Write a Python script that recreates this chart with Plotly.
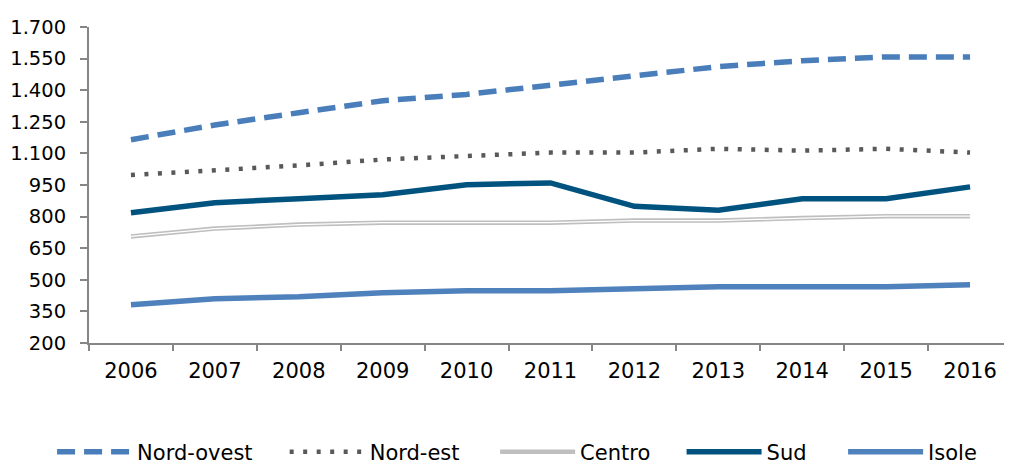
import plotly.graph_objects as go

years = ["2006", "2007", "2008", "2009", "2010", "2011", "2012", "2013", "2014", "2015", "2016"]
nord_ovest = [1165, 1235, 1293, 1350, 1380, 1423, 1465, 1512, 1540, 1558, 1558]
nord_est = [997, 1019, 1043, 1071, 1086, 1104, 1104, 1122, 1113, 1122, 1104]
centro = [706, 743, 762, 771, 771, 771, 781, 781, 793, 802, 802]
sud = [818, 866, 885, 904, 951, 960, 849, 830, 885, 885, 941]
isole = [382, 410, 419, 438, 448, 448, 457, 467, 467, 467, 476]

y_min, y_max, y_step = 200, 1700, 150

font_family = "DejaVu Sans, Arial, sans-serif"

# legend placement (paper x of each legend entry)
legend_x = [-0.040, 0.212, 0.440, 0.642, 0.817]
legend_y = -0.345

fig = go.Figure()
fig.add_trace(go.Scatter(x=years, y=nord_ovest, name="Nord-ovest", mode="lines", legend="legend",
                         line=dict(color="#4a7ebb", width=5.5, dash="18px,9px")))
fig.add_trace(go.Scatter(x=years, y=nord_est, name="Nord-est", mode="lines", legend="legend2",
                         line=dict(color="#595959", width=4.5, dash="4px,9.5px")))
fig.add_trace(go.Scatter(x=years, y=centro, name="Centro", mode="lines", legend="legend3",
                         legendgroup="c", line=dict(color="#bfbfbf", width=4.5)))
fig.add_trace(go.Scatter(x=years, y=centro, name="Centro", mode="lines", legendgroup="c",
                         showlegend=False, hoverinfo="skip",
                         line=dict(color="#ffffff", width=1.2)))
fig.add_trace(go.Scatter(x=years, y=sud, name="Sud", mode="lines", legend="legend4",
                         line=dict(color="#00527f", width=5.5)))
fig.add_trace(go.Scatter(x=years, y=isole, name="Isole", mode="lines", legend="legend5",
                         line=dict(color="#4f81bd", width=5.5)))

legend_common = dict(orientation="h", yanchor="middle", xanchor="left", y=legend_y,
                     font=dict(size=21, color="#000000"), itemwidth=75,
                     bgcolor="rgba(0,0,0,0)")

fig.update_layout(
    width=1004, height=459,
    margin=dict(l=81, r=0, t=19, b=124, autoexpand=False),
    paper_bgcolor="white", plot_bgcolor="white",
    separators=",.",
    font=dict(family=font_family, size=20, color="#000000"),
    showlegend=True,
    legend=dict(x=legend_x[0], **legend_common),
    legend2=dict(x=legend_x[1], **legend_common),
    legend3=dict(x=legend_x[2], **legend_common),
    legend4=dict(x=legend_x[3], **legend_common),
    legend5=dict(x=legend_x[4], **legend_common),
    xaxis=dict(type="category", showgrid=False, showline=True, linecolor="#868686", linewidth=2,
               ticks="outside", tickson="boundaries", ticklen=6, tickcolor="#868686", tickwidth=2,
               range=[-0.5, 10.5], tickfont=dict(size=21), ticklabelstandoff=8,
               automargin=False),
    yaxis=dict(range=[y_min, y_max], dtick=y_step, tick0=y_min, tickformat=",d",
               showgrid=False, zeroline=False, showline=True, linecolor="#868686", linewidth=2,
               ticks="outside", ticklen=7, tickcolor="#868686", tickwidth=2,
               tickfont=dict(size=19.5), ticklabelstandoff=10, automargin=False),
)

fig.write_html("out.html")
